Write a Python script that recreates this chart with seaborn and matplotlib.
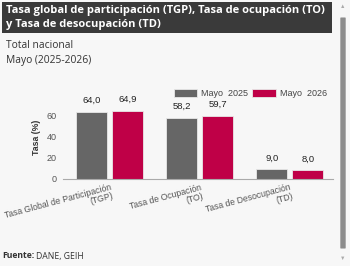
import matplotlib
matplotlib.use("Agg")
import matplotlib.pyplot as plt
from matplotlib.patches import Rectangle, FancyBboxPatch
import pandas as pd
import seaborn as sns

CATEGORIES = ["Tasa Global de Participación\n(TGP)", "Tasa de Ocupación\n(TO)", "Tasa de Desocupación\n(TD)"]
SERIES = ["Mayo  2025", "Mayo  2026"]
VALUES_2025 = [64.0, 58.2, 9.0]
VALUES_2026 = [64.9, 59.7, 8.0]
Y_TICKS = [0, 20, 40, 60]

PALETTE = {"Mayo  2025": "#666666", "Mayo  2026": "#bf0047"}
BG = "#f7f7f7"

df = pd.DataFrame({
    "cat": CATEGORIES * 2,
    "serie": [SERIES[0]] * 3 + [SERIES[1]] * 3,
    "valor": VALUES_2025 + VALUES_2026,
})

sns.set_style("white")
plt.rcParams["font.family"] = ["Liberation Sans", "DejaVu Sans"]

fig = plt.figure(figsize=(3.5, 2.66), dpi=100)
fig.patch.set_facecolor(BG)

# header bar
fig.patches.append(Rectangle((2 / 350, 1 - 33 / 266), 330 / 350, 31 / 266,
                             transform=fig.transFigure, facecolor="#3a3a3a", edgecolor="none"))
fig.text(6 / 350, 1 - 10 / 266, "Tasa global de participación (TGP), Tasa de ocupación (TO)",
         color="white", fontsize=8.0, fontweight="bold", family="Open Sans", va="center")
fig.text(6 / 350, 1 - 25 / 266, "y Tasa de desocupación (TD)",
         color="white", fontsize=8.0, fontweight="bold", family="Open Sans", va="center")
fig.text(6 / 350, 1 - 46 / 266, "Total nacional", color="#333333", fontsize=7.4, family="Open Sans", va="center")
fig.text(6 / 350, 1 - 60 / 266, "Mayo (2025-2026)", color="#333333", fontsize=7.4, family="Open Sans", va="center")
fig.text(2 / 350, 1 - 256 / 266, "Fuente:", color="#333333", fontsize=6.2, fontweight="bold",
         family="Open Sans", va="center")
fig.text(36 / 350, 1 - 256 / 266, "DANE, GEIH", color="#333333", fontsize=6.2,
         family="Open Sans", va="center")

# scrollbar
fig.patches.append(FancyBboxPatch((341 / 350, 1 - 248 / 266), 4 / 350, 230 / 266,
                                  boxstyle="round,pad=0.002", transform=fig.transFigure,
                                  facecolor="#8c8c8c", edgecolor="none"))
fig.text(343 / 350, 1 - 6 / 266, "▲", color="#aaaaaa", fontsize=4, ha="center", va="center")
fig.text(343 / 350, 1 - 258 / 266, "▼", color="#aaaaaa", fontsize=4, ha="center", va="center")

ax = fig.add_axes([63 / 350, 1 - 178.7 / 266, 270 / 350, 83.7 / 266])
ax.set_facecolor(BG)

sns.barplot(data=df, x="cat", y="valor", hue="serie", hue_order=SERIES, palette=PALETTE,
            width=0.8, gap=0.14, edgecolor="#e8e8e8", linewidth=0.6, saturation=1, ax=ax)

for cont in ax.containers:
    ax.bar_label(cont, labels=[f"{v:.1f}".replace(".", ",") for v in cont.datavalues],
                 padding=5, fontsize=6.8, color="#222222")

ax.set_xlim(-0.52, 2.48)
ax.set_ylim(0, 80)
ax.set_yticks(Y_TICKS)
ax.set_xlabel("")
ax.set_ylabel("Tasa (%)", fontsize=6.3, fontweight="bold", color="#333333", labelpad=4)
ax.tick_params(axis="y", labelsize=6.5, colors="#555555", length=2.5, width=0.5, pad=2)
ax.tick_params(axis="x", labelsize=6.2, colors="#555555", length=0, pad=3)
plt.setp(ax.get_xticklabels(), rotation=15, ha="right", rotation_mode="anchor", linespacing=1.0)

for s in ["top", "right", "left"]:
    ax.spines[s].set_visible(False)
ax.spines["bottom"].set_color("#aaaaaa")
ax.spines["bottom"].set_linewidth(0.8)

leg = ax.legend(loc="lower right", bbox_to_anchor=(0.99, 0.92), ncol=2, frameon=False,
                fontsize=6.5, handlelength=2.6, handleheight=0.9, columnspacing=0.5,
                handletextpad=0.4, borderaxespad=0)
for t in leg.get_texts():
    t.set_color("#444444")

fig.savefig("out.png", dpi=100, facecolor=BG)
